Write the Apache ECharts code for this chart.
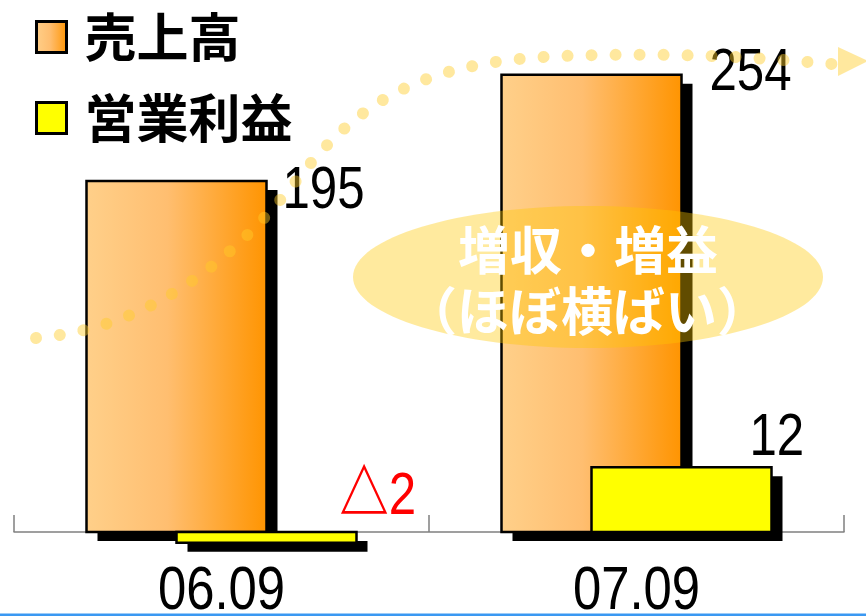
<!DOCTYPE html>
<html>
<head>
<meta charset="utf-8">
<script src="https://cdn.jsdelivr.net/npm/echarts@6/dist/echarts.min.js"></script>
<style>
  html, body { margin: 0; padding: 0; background: #ffffff; }
  #chart { width: 866px; height: 616px; }
</style>
</head>
<body>
<div id="chart"></div>
<script>
// Period labels and the two reported figures
const categories = ['06.09', '07.09'];
const salesName = '売上高';
const profitName = '営業利益';
const sales = [195, 254];
const operatingProfit = [-2, 12];
const noteLines = ['増収・増益', '（ほぼ横ばい）'];

const numFont = '"Liberation Sans", "Noto Sans CJK JP", sans-serif';
const cjkFont = '"Noto Sans CJK JP", "Noto Sans CJK SC", sans-serif';
const NARROW = 0.82;            // horizontal squeeze for the condensed figures

// value-label placement relative to each bar's top-left corner
const salesLabelPos = [[196, -20], [208, -31]];
const profitLabelPos = [[163, -65], [158, -59]];

const SHADOW_DX = 11, SHADOW_DY = 9;
const BAR_FRAC = 180 / 415;     // bar width as a share of the category band

const salesGradient = {
  type: 'linear', x: 0, y: 0, x2: 1, y2: 0,
  colorStops: [
    { offset: 0, color: '#FFD08A' },
    { offset: 0.45, color: '#FFBE70' },
    { offset: 1, color: '#FF9400' }
  ]
};

// decorative S-shaped trend path, sampled from cubic segments
const trendSegments = [
  [[36, 338], [150, 328], [232, 262], [300, 176]],
  [[300, 176], [360, 102], [420, 62], [560, 56]],
  [[560, 56], [690, 52], [760, 58], [832, 64]]
];
function sampleCubic(seg, n) {
  const out = [];
  for (let k = 0; k <= n; k++) {
    const t = k / n, u = 1 - t;
    const a = u * u * u, b = 3 * u * u * t, c = 3 * u * t * t, d = t * t * t;
    out.push([
      a * seg[0][0] + b * seg[1][0] + c * seg[2][0] + d * seg[3][0],
      a * seg[0][1] + b * seg[1][1] + c * seg[2][1] + d * seg[3][1]
    ]);
  }
  return out;
}
const trendPoints = [];
trendSegments.forEach((s, i) => {
  const pts = sampleCubic(s, 40);
  trendPoints.push(...(i === 0 ? pts : pts.slice(1)));
});

// negative figures are written with a leading triangle in red
function valueText(v) {
  return v < 0 ? '{tri|△}{neg|' + Math.abs(v) + '}' : '{pos|' + v + '}';
}
const valueRich = {
  tri: { font: 'bold 60px ' + numFont, fill: '#FF0000' },
  neg: { font: '60px ' + numFont, fill: '#FF0000' },
  pos: { font: '60px ' + numFont, fill: '#000' }
};

// bar with a hard drop shadow, its value label and (optionally) the category label
function makeBarRenderer(side, fill, labelPos, withCategory) {
  return function (params, api) {
    const i = api.value(0), v = api.value(1);
    const base = api.coord([i, 0]);
    const tip = api.coord([i, v]);
    const band = api.size([1, 0])[0];
    const w = band * BAR_FRAC;
    const x = base[0] + side * w / 4 - w / 2;
    const yTop = Math.min(base[1], tip[1]);
    const h = Math.abs(tip[1] - base[1]);
    const children = [
      { type: 'rect', shape: { x: x + SHADOW_DX, y: yTop + SHADOW_DY, width: w, height: h }, style: { fill: '#000' } },
      { type: 'rect', shape: { x: x, y: yTop, width: w, height: h }, style: { fill: fill, stroke: '#000', lineWidth: 2.5 } },
      {
        type: 'text', x: x + labelPos[params.dataIndex][0], y: yTop + labelPos[params.dataIndex][1],
        scaleX: NARROW, z2: 10,
        style: { text: valueText(v), rich: valueRich, font: '60px ' + numFont, textAlign: 'left', textVerticalAlign: 'top' }
      }
    ];
    if (withCategory) {
      children.push({
        type: 'text', x: base[0], y: base[1] + 29, scaleX: NARROW,
        style: { text: categories[i], fill: '#000', font: '62px ' + numFont, textAlign: 'center', textVerticalAlign: 'top' }
      });
    }
    return { type: 'group', children: children };
  };
}

const chart = echarts.init(document.getElementById('chart'), null, { renderer: 'canvas' });

chart.setOption({
  animation: false,
  backgroundColor: '#ffffff',
  legend: {
    data: [salesName, profitName],
    orient: 'vertical',
    left: 35,
    top: 11,
    padding: 0,
    itemWidth: 30,
    itemHeight: 31,
    itemGap: 29,
    icon: 'rect',
    itemStyle: { borderColor: '#000', borderWidth: 3 },
    textStyle: {
      fontFamily: cjkFont, fontWeight: 'bold', fontSize: 52, lineHeight: 52,
      color: '#000', padding: [0, 0, 0, 13]
    }
  },
  grid: { left: 14, right: 22, top: 28, bottom: 48, containLabel: false, outerBoundsMode: 'none' },
  xAxis: {
    type: 'category',
    data: categories,
    boundaryGap: true,
    axisLine: { onZero: true, lineStyle: { color: '#808080', width: 1.5 } },
    axisTick: { show: true, inside: true, length: 17, lineStyle: { color: '#808080', width: 1.5 } },
    axisLabel: { show: false },
    splitLine: { show: false }
  },
  yAxis: [
    { type: 'value', min: -20, max: 280, show: false, splitLine: { show: false } },
    { type: 'value', min: -20 / 3, max: 280 / 3, show: false, splitLine: { show: false } }
  ],
  series: [
    {
      name: salesName,
      type: 'custom',
      yAxisIndex: 0,
      clip: false,
      itemStyle: { color: salesGradient, borderColor: '#000', borderWidth: 2.5 },
      encode: { x: 0, y: 1 },
      data: sales.map((v, i) => [i, v]),
      renderItem: makeBarRenderer(-1, salesGradient, salesLabelPos, true)
    },
    {
      name: profitName,
      type: 'custom',
      yAxisIndex: 1,
      clip: false,
      itemStyle: { color: '#FFFF00', borderColor: '#000', borderWidth: 2.5 },
      encode: { x: 0, y: 1 },
      data: operatingProfit.map((v, i) => [i, v]),
      renderItem: makeBarRenderer(1, '#FFFF00', profitLabelPos, false)
    }
  ],
  graphic: [
    // dotted trend arrow
    {
      type: 'polyline',
      z: 100,
      shape: { points: trendPoints },
      style: { fill: null, stroke: 'rgba(255,205,40,0.45)', lineWidth: 12, lineCap: 'round', lineDash: [0.01, 24] }
    },
    {
      type: 'polygon',
      z: 100,
      shape: { points: [[838, 47], [868, 61], [838, 76]] },
      style: { fill: 'rgba(255,205,40,0.45)' }
    },
    // highlight ellipse with note
    {
      type: 'ellipse',
      z: 101,
      shape: { cx: 588, cy: 277, rx: 235, ry: 71 },
      style: { fill: 'rgba(255,200,0,0.38)' }
    },
    {
      type: 'text',
      z: 102,
      x: 588, y: 250,
      style: { text: noteLines[0], fill: '#fff', font: 'bold 52px ' + cjkFont, textAlign: 'center', textVerticalAlign: 'middle' }
    },
    {
      type: 'text',
      z: 102,
      x: 587, y: 311,
      style: { text: noteLines[1], fill: '#fff', font: 'bold 52px ' + cjkFont, textAlign: 'center', textVerticalAlign: 'middle' }
    },
    // bottom rule
    {
      type: 'rect',
      z: 103,
      shape: { x: 0, y: 613.5, width: 866, height: 2.5 },
      style: { fill: '#3A98F2' }
    }
  ]
});
</script>
</body>
</html>
